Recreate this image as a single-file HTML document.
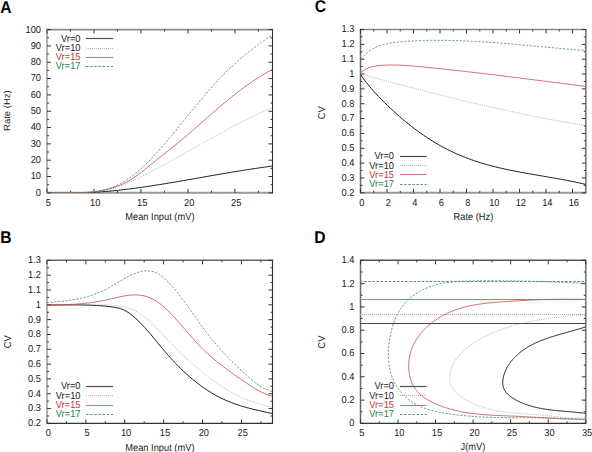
<!DOCTYPE html><html><head><meta charset="utf-8"><style>html,body{margin:0;padding:0;background:#fff;width:592px;height:452px;overflow:hidden}</style></head><body><svg width="592" height="452" viewBox="0 0 592 452" style="display:block;font-family:'Liberation Sans', sans-serif;text-rendering:geometricPrecision">
<rect width="592" height="452" fill="#fff"/>
<clipPath id="cA"><rect x="47.00" y="29.60" width="225.50" height="163.25"/></clipPath>
<path d="M46.50 29.60H273.00" stroke="#8a8a8a" stroke-width="1.6"/>
<path d="M46.50 192.85H273.00" stroke="#9a9a9a" stroke-width="2.0"/>
<path d="M47.00 29.10V193.35" stroke="#b4b4b4" stroke-width="2.0"/>
<path d="M272.50 29.10V193.35" stroke="#333" stroke-width="1.1"/>
<path d="M47.00 192.85v-4M47.00 29.60v4M93.98 192.85v-4M93.98 29.60v4M140.96 192.85v-4M140.96 29.60v4M187.94 192.85v-4M187.94 29.60v4M234.92 192.85v-4M234.92 29.60v4M70.49 192.85v-2M70.49 29.60v2M117.47 192.85v-2M117.47 29.60v2M164.45 192.85v-2M164.45 29.60v2M211.43 192.85v-2M211.43 29.60v2M258.41 192.85v-2M258.41 29.60v2M47.00 192.85h4M272.50 192.85h-4M47.00 176.53h4M272.50 176.53h-4M47.00 160.20h4M272.50 160.20h-4M47.00 143.88h4M272.50 143.88h-4M47.00 127.55h4M272.50 127.55h-4M47.00 111.22h4M272.50 111.22h-4M47.00 94.90h4M272.50 94.90h-4M47.00 78.57h4M272.50 78.57h-4M47.00 62.25h4M272.50 62.25h-4M47.00 45.92h4M272.50 45.92h-4M47.00 29.60h4M272.50 29.60h-4M47.00 184.69h2M272.50 184.69h-2M47.00 168.36h2M272.50 168.36h-2M47.00 152.04h2M272.50 152.04h-2M47.00 135.71h2M272.50 135.71h-2M47.00 119.39h2M272.50 119.39h-2M47.00 103.06h2M272.50 103.06h-2M47.00 86.74h2M272.50 86.74h-2M47.00 70.41h2M272.50 70.41h-2M47.00 54.09h2M272.50 54.09h-2M47.00 37.76h2M272.50 37.76h-2" stroke="#333" stroke-width="1" fill="none"/>
<text transform="translate(48.30 205.75) scale(1 1.08)" text-anchor="middle" fill="#1a1a1a" font-size="9.3">5</text>
<text transform="translate(95.28 205.75) scale(1 1.08)" text-anchor="middle" fill="#1a1a1a" font-size="9.3">10</text>
<text transform="translate(142.26 205.75) scale(1 1.08)" text-anchor="middle" fill="#1a1a1a" font-size="9.3">15</text>
<text transform="translate(189.24 205.75) scale(1 1.08)" text-anchor="middle" fill="#1a1a1a" font-size="9.3">20</text>
<text transform="translate(236.22 205.75) scale(1 1.08)" text-anchor="middle" fill="#1a1a1a" font-size="9.3">25</text>
<text transform="translate(41.00 195.75) scale(1 1.08)" text-anchor="end" fill="#1a1a1a" font-size="9.3">0</text>
<text transform="translate(41.00 179.43) scale(1 1.08)" text-anchor="end" fill="#1a1a1a" font-size="9.3">10</text>
<text transform="translate(41.00 163.10) scale(1 1.08)" text-anchor="end" fill="#1a1a1a" font-size="9.3">20</text>
<text transform="translate(41.00 146.78) scale(1 1.08)" text-anchor="end" fill="#1a1a1a" font-size="9.3">30</text>
<text transform="translate(41.00 130.45) scale(1 1.08)" text-anchor="end" fill="#1a1a1a" font-size="9.3">40</text>
<text transform="translate(41.00 114.12) scale(1 1.08)" text-anchor="end" fill="#1a1a1a" font-size="9.3">50</text>
<text transform="translate(41.00 97.80) scale(1 1.08)" text-anchor="end" fill="#1a1a1a" font-size="9.3">60</text>
<text transform="translate(41.00 81.47) scale(1 1.08)" text-anchor="end" fill="#1a1a1a" font-size="9.3">70</text>
<text transform="translate(41.00 65.15) scale(1 1.08)" text-anchor="end" fill="#1a1a1a" font-size="9.3">80</text>
<text transform="translate(41.00 48.82) scale(1 1.08)" text-anchor="end" fill="#1a1a1a" font-size="9.3">90</text>
<text transform="translate(41.00 32.50) scale(1 1.08)" text-anchor="end" fill="#1a1a1a" font-size="9.3">100</text>
<clipPath id="cB"><rect x="47.00" y="260.35" width="225.50" height="163.05"/></clipPath>
<path d="M46.50 260.35H273.00" stroke="#666" stroke-width="1.5"/>
<path d="M46.50 423.40H273.00" stroke="#333" stroke-width="1.3"/>
<path d="M47.00 259.85V423.90" stroke="#b4b4b4" stroke-width="2.0"/>
<path d="M272.50 259.85V423.90" stroke="#333" stroke-width="1.2"/>
<path d="M47.00 423.40v-4M47.00 260.35v4M85.88 423.40v-4M85.88 260.35v4M124.76 423.40v-4M124.76 260.35v4M163.64 423.40v-4M163.64 260.35v4M202.52 423.40v-4M202.52 260.35v4M241.40 423.40v-4M241.40 260.35v4M66.44 423.40v-2M66.44 260.35v2M105.32 423.40v-2M105.32 260.35v2M144.20 423.40v-2M144.20 260.35v2M183.08 423.40v-2M183.08 260.35v2M221.96 423.40v-2M221.96 260.35v2M260.84 423.40v-2M260.84 260.35v2M47.00 423.40h4M272.50 423.40h-4M47.00 408.58h4M272.50 408.58h-4M47.00 393.75h4M272.50 393.75h-4M47.00 378.93h4M272.50 378.93h-4M47.00 364.11h4M272.50 364.11h-4M47.00 349.29h4M272.50 349.29h-4M47.00 334.46h4M272.50 334.46h-4M47.00 319.64h4M272.50 319.64h-4M47.00 304.82h4M272.50 304.82h-4M47.00 290.00h4M272.50 290.00h-4M47.00 275.17h4M272.50 275.17h-4M47.00 260.35h4M272.50 260.35h-4M47.00 415.99h2M272.50 415.99h-2M47.00 401.17h2M272.50 401.17h-2M47.00 386.34h2M272.50 386.34h-2M47.00 371.52h2M272.50 371.52h-2M47.00 356.70h2M272.50 356.70h-2M47.00 341.88h2M272.50 341.88h-2M47.00 327.05h2M272.50 327.05h-2M47.00 312.23h2M272.50 312.23h-2M47.00 297.41h2M272.50 297.41h-2M47.00 282.58h2M272.50 282.58h-2M47.00 267.76h2M272.50 267.76h-2" stroke="#333" stroke-width="1" fill="none"/>
<text transform="translate(48.30 436.30) scale(1 1.08)" text-anchor="middle" fill="#1a1a1a" font-size="9.3">0</text>
<text transform="translate(87.18 436.30) scale(1 1.08)" text-anchor="middle" fill="#1a1a1a" font-size="9.3">5</text>
<text transform="translate(126.06 436.30) scale(1 1.08)" text-anchor="middle" fill="#1a1a1a" font-size="9.3">10</text>
<text transform="translate(164.94 436.30) scale(1 1.08)" text-anchor="middle" fill="#1a1a1a" font-size="9.3">15</text>
<text transform="translate(203.82 436.30) scale(1 1.08)" text-anchor="middle" fill="#1a1a1a" font-size="9.3">20</text>
<text transform="translate(242.70 436.30) scale(1 1.08)" text-anchor="middle" fill="#1a1a1a" font-size="9.3">25</text>
<text transform="translate(41.00 426.30) scale(1 1.08)" text-anchor="end" fill="#1a1a1a" font-size="9.3">0.2</text>
<text transform="translate(41.00 411.48) scale(1 1.08)" text-anchor="end" fill="#1a1a1a" font-size="9.3">0.3</text>
<text transform="translate(41.00 396.65) scale(1 1.08)" text-anchor="end" fill="#1a1a1a" font-size="9.3">0.4</text>
<text transform="translate(41.00 381.83) scale(1 1.08)" text-anchor="end" fill="#1a1a1a" font-size="9.3">0.5</text>
<text transform="translate(41.00 367.01) scale(1 1.08)" text-anchor="end" fill="#1a1a1a" font-size="9.3">0.6</text>
<text transform="translate(41.00 352.19) scale(1 1.08)" text-anchor="end" fill="#1a1a1a" font-size="9.3">0.7</text>
<text transform="translate(41.00 337.36) scale(1 1.08)" text-anchor="end" fill="#1a1a1a" font-size="9.3">0.8</text>
<text transform="translate(41.00 322.54) scale(1 1.08)" text-anchor="end" fill="#1a1a1a" font-size="9.3">0.9</text>
<text transform="translate(41.00 307.72) scale(1 1.08)" text-anchor="end" fill="#1a1a1a" font-size="9.3">1</text>
<text transform="translate(41.00 292.90) scale(1 1.08)" text-anchor="end" fill="#1a1a1a" font-size="9.3">1.1</text>
<text transform="translate(41.00 278.07) scale(1 1.08)" text-anchor="end" fill="#1a1a1a" font-size="9.3">1.2</text>
<text transform="translate(41.00 263.25) scale(1 1.08)" text-anchor="end" fill="#1a1a1a" font-size="9.3">1.3</text>
<clipPath id="cC"><rect x="360.50" y="29.50" width="225.30" height="163.30"/></clipPath>
<path d="M360.00 29.50H586.30" stroke="#888" stroke-width="1.7"/>
<path d="M360.00 192.80H586.30" stroke="#999" stroke-width="2.0"/>
<path d="M360.50 29.00V193.30" stroke="#6a6a6a" stroke-width="1.5"/>
<path d="M585.80 29.00V193.30" stroke="#777" stroke-width="1.6"/>
<path d="M360.50 192.80v-4M360.50 29.50v4M387.01 192.80v-4M387.01 29.50v4M413.51 192.80v-4M413.51 29.50v4M440.02 192.80v-4M440.02 29.50v4M466.52 192.80v-4M466.52 29.50v4M493.03 192.80v-4M493.03 29.50v4M519.54 192.80v-4M519.54 29.50v4M546.04 192.80v-4M546.04 29.50v4M572.55 192.80v-4M572.55 29.50v4M373.75 192.80v-2M373.75 29.50v2M400.26 192.80v-2M400.26 29.50v2M426.76 192.80v-2M426.76 29.50v2M453.27 192.80v-2M453.27 29.50v2M479.78 192.80v-2M479.78 29.50v2M506.28 192.80v-2M506.28 29.50v2M532.79 192.80v-2M532.79 29.50v2M559.29 192.80v-2M559.29 29.50v2M360.50 192.80h4M585.80 192.80h-4M360.50 177.95h4M585.80 177.95h-4M360.50 163.11h4M585.80 163.11h-4M360.50 148.26h4M585.80 148.26h-4M360.50 133.42h4M585.80 133.42h-4M360.50 118.57h4M585.80 118.57h-4M360.50 103.73h4M585.80 103.73h-4M360.50 88.88h4M585.80 88.88h-4M360.50 74.04h4M585.80 74.04h-4M360.50 59.19h4M585.80 59.19h-4M360.50 44.35h4M585.80 44.35h-4M360.50 29.50h4M585.80 29.50h-4M360.50 185.38h2M585.80 185.38h-2M360.50 170.53h2M585.80 170.53h-2M360.50 155.69h2M585.80 155.69h-2M360.50 140.84h2M585.80 140.84h-2M360.50 126.00h2M585.80 126.00h-2M360.50 111.15h2M585.80 111.15h-2M360.50 96.30h2M585.80 96.30h-2M360.50 81.46h2M585.80 81.46h-2M360.50 66.61h2M585.80 66.61h-2M360.50 51.77h2M585.80 51.77h-2M360.50 36.92h2M585.80 36.92h-2" stroke="#333" stroke-width="1" fill="none"/>
<text transform="translate(361.80 205.70) scale(1 1.08)" text-anchor="middle" fill="#1a1a1a" font-size="9.3">0</text>
<text transform="translate(388.31 205.70) scale(1 1.08)" text-anchor="middle" fill="#1a1a1a" font-size="9.3">2</text>
<text transform="translate(414.81 205.70) scale(1 1.08)" text-anchor="middle" fill="#1a1a1a" font-size="9.3">4</text>
<text transform="translate(441.32 205.70) scale(1 1.08)" text-anchor="middle" fill="#1a1a1a" font-size="9.3">6</text>
<text transform="translate(467.82 205.70) scale(1 1.08)" text-anchor="middle" fill="#1a1a1a" font-size="9.3">8</text>
<text transform="translate(494.33 205.70) scale(1 1.08)" text-anchor="middle" fill="#1a1a1a" font-size="9.3">10</text>
<text transform="translate(520.84 205.70) scale(1 1.08)" text-anchor="middle" fill="#1a1a1a" font-size="9.3">12</text>
<text transform="translate(547.34 205.70) scale(1 1.08)" text-anchor="middle" fill="#1a1a1a" font-size="9.3">14</text>
<text transform="translate(573.85 205.70) scale(1 1.08)" text-anchor="middle" fill="#1a1a1a" font-size="9.3">16</text>
<text transform="translate(354.50 195.70) scale(1 1.08)" text-anchor="end" fill="#1a1a1a" font-size="9.3">0.2</text>
<text transform="translate(354.50 180.85) scale(1 1.08)" text-anchor="end" fill="#1a1a1a" font-size="9.3">0.3</text>
<text transform="translate(354.50 166.01) scale(1 1.08)" text-anchor="end" fill="#1a1a1a" font-size="9.3">0.4</text>
<text transform="translate(354.50 151.16) scale(1 1.08)" text-anchor="end" fill="#1a1a1a" font-size="9.3">0.5</text>
<text transform="translate(354.50 136.32) scale(1 1.08)" text-anchor="end" fill="#1a1a1a" font-size="9.3">0.6</text>
<text transform="translate(354.50 121.47) scale(1 1.08)" text-anchor="end" fill="#1a1a1a" font-size="9.3">0.7</text>
<text transform="translate(354.50 106.63) scale(1 1.08)" text-anchor="end" fill="#1a1a1a" font-size="9.3">0.8</text>
<text transform="translate(354.50 91.78) scale(1 1.08)" text-anchor="end" fill="#1a1a1a" font-size="9.3">0.9</text>
<text transform="translate(354.50 76.94) scale(1 1.08)" text-anchor="end" fill="#1a1a1a" font-size="9.3">1</text>
<text transform="translate(354.50 62.09) scale(1 1.08)" text-anchor="end" fill="#1a1a1a" font-size="9.3">1.1</text>
<text transform="translate(354.50 47.25) scale(1 1.08)" text-anchor="end" fill="#1a1a1a" font-size="9.3">1.2</text>
<text transform="translate(354.50 32.40) scale(1 1.08)" text-anchor="end" fill="#1a1a1a" font-size="9.3">1.3</text>
<clipPath id="cD"><rect x="360.50" y="260.35" width="225.25" height="163.05"/></clipPath>
<path d="M360.00 260.35H586.25" stroke="#555" stroke-width="1.5"/>
<path d="M360.00 423.40H586.25" stroke="#333" stroke-width="1.3"/>
<path d="M360.50 259.85V423.90" stroke="#6a6a6a" stroke-width="1.5"/>
<path d="M585.75 259.85V423.90" stroke="#777" stroke-width="1.6"/>
<path d="M360.50 423.40v-4M360.50 260.35v4M398.04 423.40v-4M398.04 260.35v4M435.58 423.40v-4M435.58 260.35v4M473.12 423.40v-4M473.12 260.35v4M510.67 423.40v-4M510.67 260.35v4M548.21 423.40v-4M548.21 260.35v4M585.75 423.40v-4M585.75 260.35v4M379.27 423.40v-2M379.27 260.35v2M416.81 423.40v-2M416.81 260.35v2M454.35 423.40v-2M454.35 260.35v2M491.90 423.40v-2M491.90 260.35v2M529.44 423.40v-2M529.44 260.35v2M566.98 423.40v-2M566.98 260.35v2M360.50 423.40h4M585.75 423.40h-4M360.50 400.11h4M585.75 400.11h-4M360.50 376.81h4M585.75 376.81h-4M360.50 353.52h4M585.75 353.52h-4M360.50 330.23h4M585.75 330.23h-4M360.50 306.94h4M585.75 306.94h-4M360.50 283.64h4M585.75 283.64h-4M360.50 260.35h4M585.75 260.35h-4M360.50 411.75h2M585.75 411.75h-2M360.50 388.46h2M585.75 388.46h-2M360.50 365.17h2M585.75 365.17h-2M360.50 341.88h2M585.75 341.88h-2M360.50 318.58h2M585.75 318.58h-2M360.50 295.29h2M585.75 295.29h-2M360.50 272.00h2M585.75 272.00h-2" stroke="#333" stroke-width="1" fill="none"/>
<text transform="translate(361.80 436.30) scale(1 1.08)" text-anchor="middle" fill="#1a1a1a" font-size="9.3">5</text>
<text transform="translate(399.34 436.30) scale(1 1.08)" text-anchor="middle" fill="#1a1a1a" font-size="9.3">10</text>
<text transform="translate(436.88 436.30) scale(1 1.08)" text-anchor="middle" fill="#1a1a1a" font-size="9.3">15</text>
<text transform="translate(474.43 436.30) scale(1 1.08)" text-anchor="middle" fill="#1a1a1a" font-size="9.3">20</text>
<text transform="translate(511.97 436.30) scale(1 1.08)" text-anchor="middle" fill="#1a1a1a" font-size="9.3">25</text>
<text transform="translate(549.51 436.30) scale(1 1.08)" text-anchor="middle" fill="#1a1a1a" font-size="9.3">30</text>
<text transform="translate(587.05 436.30) scale(1 1.08)" text-anchor="middle" fill="#1a1a1a" font-size="9.3">35</text>
<text transform="translate(354.50 426.30) scale(1 1.08)" text-anchor="end" fill="#1a1a1a" font-size="9.3">0</text>
<text transform="translate(354.50 403.01) scale(1 1.08)" text-anchor="end" fill="#1a1a1a" font-size="9.3">0.2</text>
<text transform="translate(354.50 379.71) scale(1 1.08)" text-anchor="end" fill="#1a1a1a" font-size="9.3">0.4</text>
<text transform="translate(354.50 356.42) scale(1 1.08)" text-anchor="end" fill="#1a1a1a" font-size="9.3">0.6</text>
<text transform="translate(354.50 333.13) scale(1 1.08)" text-anchor="end" fill="#1a1a1a" font-size="9.3">0.8</text>
<text transform="translate(354.50 309.84) scale(1 1.08)" text-anchor="end" fill="#1a1a1a" font-size="9.3">1</text>
<text transform="translate(354.50 286.54) scale(1 1.08)" text-anchor="end" fill="#1a1a1a" font-size="9.3">1.2</text>
<text transform="translate(354.50 263.25) scale(1 1.08)" text-anchor="end" fill="#1a1a1a" font-size="9.3">1.4</text>
<text transform="translate(159.90 219.80) scale(1 1.08)" text-anchor="middle" fill="#1a1a1a" font-size="9.3">Mean Input (mV)</text>
<text transform="translate(159.90 450.80) scale(1 1.08)" text-anchor="middle" fill="#1a1a1a" font-size="9.3">Mean Input (mV)</text>
<text transform="translate(473.40 219.80) scale(1 1.08)" text-anchor="middle" fill="#1a1a1a" font-size="9.3">Rate (Hz)</text>
<text transform="translate(472.90 449.80) scale(1 1.08)" text-anchor="middle" fill="#1a1a1a" font-size="9.3">J(mV)</text>
<text transform="translate(10.30 110.60) rotate(-90) scale(1 0.95)" text-anchor="middle" fill="#1a1a1a" font-size="9.5">Rate (Hz)</text>
<text transform="translate(11.20 341.70) rotate(-90) scale(1 1.08)" text-anchor="middle" fill="#1a1a1a" font-size="9.3">CV</text>
<text transform="translate(324.60 112.70) rotate(-90) scale(1 1.08)" text-anchor="middle" fill="#1a1a1a" font-size="9.3">CV</text>
<text transform="translate(324.60 342.00) rotate(-90) scale(1 1.08)" text-anchor="middle" fill="#1a1a1a" font-size="9.3">CV</text>
<text transform="translate(0.30 12.50) scale(0.92 1)" font-size="17" font-weight="bold" fill="#000">A</text>
<text transform="translate(0.20 242.70) scale(0.92 1)" font-size="17" font-weight="bold" fill="#000">B</text>
<text transform="translate(314.80 11.50) scale(0.92 1)" font-size="17" font-weight="bold" fill="#000">C</text>
<text transform="translate(314.20 242.70) scale(0.92 1)" font-size="17" font-weight="bold" fill="#000">D</text>
<text transform="translate(80.50 41.70) scale(1 1.08)" text-anchor="end" fill="#1a1a1a" font-size="9.3">Vr=0</text>
<path d="M86.00 38.50H113.20" stroke="#505050" stroke-width="1.2"/>
<text transform="translate(80.50 50.90) scale(1 1.08)" text-anchor="end" fill="#1a1a1a" font-size="9.3">Vr=10</text>
<path d="M86.00 48.50H113.20" stroke="#b8b8b8" stroke-width="1.0" stroke-dasharray="1 1"/>
<text transform="translate(80.50 60.40) scale(1 1.08)" text-anchor="end" fill="#c03838" font-size="9.3">Vr=15</text>
<path d="M86.00 57.50H113.20" stroke="#d47474" stroke-width="1.0"/>
<text transform="translate(80.50 69.40) scale(1 1.08)" text-anchor="end" fill="#2a8048" font-size="9.3">Vr=17</text>
<path d="M86.00 66.50H113.20" stroke="#5e9a74" stroke-width="1.0" stroke-dasharray="2.6 1.5"/>
<text transform="translate(80.50 389.40) scale(1 1.08)" text-anchor="end" fill="#1a1a1a" font-size="9.3">Vr=0</text>
<path d="M86.00 386.50H113.20" stroke="#505050" stroke-width="1.2"/>
<text transform="translate(80.50 398.60) scale(1 1.08)" text-anchor="end" fill="#1a1a1a" font-size="9.3">Vr=10</text>
<path d="M86.00 395.50H113.20" stroke="#b8b8b8" stroke-width="1.0" stroke-dasharray="1 1"/>
<text transform="translate(80.50 408.00) scale(1 1.08)" text-anchor="end" fill="#c03838" font-size="9.3">Vr=15</text>
<path d="M86.00 405.50H113.20" stroke="#d47474" stroke-width="1.0"/>
<text transform="translate(80.50 417.30) scale(1 1.08)" text-anchor="end" fill="#2a8048" font-size="9.3">Vr=17</text>
<path d="M86.00 414.50H113.20" stroke="#5e9a74" stroke-width="1.0" stroke-dasharray="2.6 1.5"/>
<text transform="translate(394.00 159.30) scale(1 1.08)" text-anchor="end" fill="#1a1a1a" font-size="9.3">Vr=0</text>
<path d="M400.00 156.50H426.70" stroke="#505050" stroke-width="1.2"/>
<text transform="translate(394.00 168.60) scale(1 1.08)" text-anchor="end" fill="#1a1a1a" font-size="9.3">Vr=10</text>
<path d="M400.00 165.50H426.70" stroke="#b8b8b8" stroke-width="1.0" stroke-dasharray="1 1"/>
<text transform="translate(394.00 177.80) scale(1 1.08)" text-anchor="end" fill="#c03838" font-size="9.3">Vr=15</text>
<path d="M400.00 174.50H426.70" stroke="#d47474" stroke-width="1.0"/>
<text transform="translate(394.00 187.20) scale(1 1.08)" text-anchor="end" fill="#2a8048" font-size="9.3">Vr=17</text>
<path d="M400.00 184.50H426.70" stroke="#5e9a74" stroke-width="1.0" stroke-dasharray="2.6 1.5"/>
<text transform="translate(394.00 389.40) scale(1 1.08)" text-anchor="end" fill="#1a1a1a" font-size="9.3">Vr=0</text>
<path d="M400.00 386.50H426.70" stroke="#505050" stroke-width="1.2"/>
<text transform="translate(394.00 398.60) scale(1 1.08)" text-anchor="end" fill="#1a1a1a" font-size="9.3">Vr=10</text>
<path d="M400.00 395.50H426.70" stroke="#b8b8b8" stroke-width="1.0" stroke-dasharray="1 1"/>
<text transform="translate(394.00 408.00) scale(1 1.08)" text-anchor="end" fill="#c03838" font-size="9.3">Vr=15</text>
<path d="M400.00 405.50H426.70" stroke="#d47474" stroke-width="1.0"/>
<text transform="translate(394.00 417.30) scale(1 1.08)" text-anchor="end" fill="#2a8048" font-size="9.3">Vr=17</text>
<path d="M400.00 414.50H426.70" stroke="#5e9a74" stroke-width="1.0" stroke-dasharray="2.6 1.5"/>
<path d="M47.00 192.77 L48.50 192.85 L50.00 192.92 L51.50 192.99 L53.00 193.05 L54.50 193.10 L56.00 193.15 L57.50 193.19 L59.00 193.23 L60.50 193.25 L62.00 193.28 L63.50 193.29 L65.00 193.30 L66.50 193.31 L68.00 193.30 L69.50 193.30 L71.00 193.28 L72.50 193.26 L74.00 193.24 L75.50 193.21 L77.00 193.17 L78.50 193.13 L80.00 193.08 L81.50 193.03 L83.00 192.97 L84.50 192.91 L86.00 192.84 L87.50 192.77 L89.00 192.69 L90.50 192.61 L92.00 192.52 L93.50 192.43 L95.00 192.33 L96.50 192.23 L98.00 192.12 L99.50 192.01 L101.00 191.90 L102.50 191.78 L104.00 191.65 L105.50 191.52 L107.00 191.39 L108.50 191.25 L110.00 191.11 L111.50 190.97 L113.00 190.82 L114.50 190.67 L116.00 190.51 L117.50 190.35 L119.00 190.18 L120.50 190.02 L122.00 189.85 L123.50 189.67 L125.00 189.49 L126.50 189.31 L128.00 189.13 L129.50 188.94 L131.00 188.75 L132.50 188.55 L134.00 188.35 L135.50 188.15 L137.00 187.95 L138.50 187.74 L140.00 187.54 L141.50 187.32 L143.00 187.11 L144.50 186.89 L146.00 186.67 L147.50 186.45 L149.00 186.23 L150.50 186.00 L152.00 185.77 L153.50 185.54 L155.00 185.31 L156.50 185.08 L158.00 184.84 L159.50 184.60 L161.00 184.36 L162.50 184.12 L164.00 183.88 L165.50 183.63 L167.00 183.38 L168.50 183.13 L170.00 182.88 L171.50 182.63 L173.00 182.38 L174.50 182.13 L176.00 181.87 L177.50 181.62 L179.00 181.36 L180.50 181.10 L182.00 180.84 L183.50 180.58 L185.00 180.32 L186.50 180.06 L188.00 179.80 L189.50 179.54 L191.00 179.27 L192.50 179.01 L194.00 178.75 L195.50 178.48 L197.00 178.22 L198.50 177.95 L200.00 177.69 L201.50 177.42 L203.00 177.16 L204.50 176.89 L206.00 176.63 L207.50 176.37 L209.00 176.10 L210.50 175.84 L212.00 175.58 L213.50 175.31 L215.00 175.05 L216.50 174.79 L218.00 174.53 L219.50 174.27 L221.00 174.01 L222.50 173.75 L224.00 173.50 L225.50 173.24 L227.00 172.99 L228.50 172.73 L230.00 172.48 L231.50 172.23 L233.00 171.98 L234.50 171.73 L236.00 171.48 L237.50 171.24 L239.00 170.99 L240.50 170.75 L242.00 170.51 L243.50 170.27 L245.00 170.04 L246.50 169.80 L248.00 169.57 L249.50 169.34 L251.00 169.11 L252.50 168.88 L254.00 168.66 L255.50 168.44 L257.00 168.22 L258.50 168.00 L260.00 167.79 L261.50 167.58 L263.00 167.37 L264.50 167.16 L266.00 166.96 L267.50 166.76 L269.00 166.56 L270.50 166.37 L272.00 166.17 L272.50 166.11" fill="none" stroke="#1a1a1a" stroke-width="1.0" clip-path="url(#cA)" stroke-linejoin="round"/>
<path d="M47.00 192.78 L48.50 192.75 L50.00 192.73 L51.50 192.72 L53.00 192.72 L54.50 192.72 L56.00 192.73 L57.50 192.75 L59.00 192.77 L60.50 192.79 L62.00 192.81 L63.50 192.84 L65.00 192.86 L66.50 192.89 L68.00 192.91 L69.50 192.93 L71.00 192.94 L72.50 192.96 L74.00 192.96 L75.50 192.96 L77.00 192.95 L78.50 192.93 L80.00 192.91 L81.50 192.87 L83.00 192.82 L84.50 192.76 L86.00 192.68 L87.50 192.60 L89.00 192.49 L90.50 192.38 L92.00 192.24 L93.50 192.09 L95.00 191.92 L96.50 191.74 L98.00 191.54 L99.50 191.31 L101.00 191.07 L102.50 190.81 L104.00 190.53 L105.50 190.23 L107.00 189.91 L108.50 189.56 L110.00 189.19 L111.50 188.80 L113.00 188.39 L114.50 187.95 L116.00 187.49 L117.50 187.01 L119.00 186.50 L120.50 185.98 L122.00 185.43 L123.50 184.86 L125.00 184.28 L126.50 183.67 L128.00 183.04 L129.50 182.39 L131.00 181.73 L132.50 181.05 L134.00 180.35 L135.50 179.64 L137.00 178.91 L138.50 178.17 L140.00 177.42 L141.50 176.66 L143.00 175.89 L144.50 175.11 L146.00 174.32 L147.50 173.52 L149.00 172.72 L150.50 171.92 L152.00 171.11 L153.50 170.31 L155.00 169.50 L156.50 168.69 L158.00 167.87 L159.50 167.06 L161.00 166.24 L162.50 165.42 L164.00 164.61 L165.50 163.79 L167.00 162.96 L168.50 162.14 L170.00 161.32 L171.50 160.49 L173.00 159.67 L174.50 158.84 L176.00 158.01 L177.50 157.19 L179.00 156.36 L180.50 155.53 L182.00 154.69 L183.50 153.86 L185.00 153.03 L186.50 152.20 L188.00 151.36 L189.50 150.53 L191.00 149.70 L192.50 148.86 L194.00 148.03 L195.50 147.19 L197.00 146.36 L198.50 145.52 L200.00 144.68 L201.50 143.85 L203.00 143.01 L204.50 142.18 L206.00 141.34 L207.50 140.50 L209.00 139.67 L210.50 138.83 L212.00 138.00 L213.50 137.16 L215.00 136.33 L216.50 135.50 L218.00 134.66 L219.50 133.83 L221.00 133.01 L222.50 132.18 L224.00 131.36 L225.50 130.53 L227.00 129.72 L228.50 128.90 L230.00 128.09 L231.50 127.28 L233.00 126.48 L234.50 125.68 L236.00 124.88 L237.50 124.09 L239.00 123.30 L240.50 122.52 L242.00 121.75 L243.50 120.98 L245.00 120.22 L246.50 119.46 L248.00 118.72 L249.50 117.97 L251.00 117.24 L252.50 116.51 L254.00 115.79 L255.50 115.08 L257.00 114.38 L258.50 113.69 L260.00 113.00 L261.50 112.33 L263.00 111.66 L264.50 111.00 L266.00 110.36 L267.50 109.72 L269.00 109.10 L270.50 108.48 L272.00 107.88 L272.50 107.68" fill="none" stroke="#999" stroke-width="0.75" stroke-dasharray="1 1.2" clip-path="url(#cA)" stroke-linejoin="round"/>
<path d="M47.00 192.86 L48.50 192.83 L50.00 192.81 L51.50 192.80 L53.00 192.79 L54.50 192.79 L56.00 192.79 L57.50 192.80 L59.00 192.80 L60.50 192.81 L62.00 192.82 L63.50 192.83 L65.00 192.84 L66.50 192.84 L68.00 192.85 L69.50 192.85 L71.00 192.84 L72.50 192.83 L74.00 192.82 L75.50 192.80 L77.00 192.77 L78.50 192.73 L80.00 192.68 L81.50 192.62 L83.00 192.56 L84.50 192.48 L86.00 192.39 L87.50 192.28 L89.00 192.16 L90.50 192.03 L92.00 191.88 L93.50 191.72 L95.00 191.53 L96.50 191.33 L98.00 191.11 L99.50 190.87 L101.00 190.61 L102.50 190.33 L104.00 190.03 L105.50 189.70 L107.00 189.35 L108.50 188.98 L110.00 188.58 L111.50 188.15 L113.00 187.70 L114.50 187.21 L116.00 186.70 L117.50 186.15 L119.00 185.57 L120.50 184.95 L122.00 184.30 L123.50 183.60 L125.00 182.87 L126.50 182.09 L128.00 181.27 L129.50 180.40 L131.00 179.49 L132.50 178.54 L134.00 177.55 L135.50 176.52 L137.00 175.45 L138.50 174.35 L140.00 173.23 L141.50 172.07 L143.00 170.90 L144.50 169.71 L146.00 168.51 L147.50 167.30 L149.00 166.09 L150.50 164.87 L152.00 163.66 L153.50 162.45 L155.00 161.25 L156.50 160.05 L158.00 158.86 L159.50 157.68 L161.00 156.49 L162.50 155.31 L164.00 154.12 L165.50 152.94 L167.00 151.75 L168.50 150.56 L170.00 149.37 L171.50 148.17 L173.00 146.96 L174.50 145.75 L176.00 144.53 L177.50 143.30 L179.00 142.07 L180.50 140.82 L182.00 139.57 L183.50 138.31 L185.00 137.04 L186.50 135.77 L188.00 134.49 L189.50 133.20 L191.00 131.91 L192.50 130.61 L194.00 129.30 L195.50 127.99 L197.00 126.68 L198.50 125.36 L200.00 124.04 L201.50 122.72 L203.00 121.40 L204.50 120.08 L206.00 118.76 L207.50 117.44 L209.00 116.12 L210.50 114.80 L212.00 113.49 L213.50 112.19 L215.00 110.89 L216.50 109.59 L218.00 108.30 L219.50 107.02 L221.00 105.74 L222.50 104.48 L224.00 103.22 L225.50 101.97 L227.00 100.74 L228.50 99.51 L230.00 98.29 L231.50 97.08 L233.00 95.88 L234.50 94.70 L236.00 93.53 L237.50 92.36 L239.00 91.21 L240.50 90.08 L242.00 88.95 L243.50 87.84 L245.00 86.75 L246.50 85.66 L248.00 84.60 L249.50 83.54 L251.00 82.50 L252.50 81.48 L254.00 80.47 L255.50 79.48 L257.00 78.51 L258.50 77.55 L260.00 76.61 L261.50 75.69 L263.00 74.79 L264.50 73.90 L266.00 73.03 L267.50 72.18 L269.00 71.35 L270.50 70.54 L272.00 69.75 L272.50 69.50" fill="none" stroke="#cc5252" stroke-width="0.85" clip-path="url(#cA)" stroke-linejoin="round"/>
<path d="M47.00 192.80 L48.50 192.70 L50.00 192.63 L51.50 192.57 L53.00 192.52 L54.50 192.49 L56.00 192.47 L57.50 192.46 L59.00 192.46 L60.50 192.47 L62.00 192.49 L63.50 192.51 L65.00 192.53 L66.50 192.56 L68.00 192.59 L69.50 192.61 L71.00 192.64 L72.50 192.66 L74.00 192.68 L75.50 192.69 L77.00 192.70 L78.50 192.69 L80.00 192.68 L81.50 192.65 L83.00 192.62 L84.50 192.56 L86.00 192.50 L87.50 192.41 L89.00 192.31 L90.50 192.19 L92.00 192.04 L93.50 191.88 L95.00 191.69 L96.50 191.47 L98.00 191.23 L99.50 190.96 L101.00 190.66 L102.50 190.34 L104.00 189.97 L105.50 189.58 L107.00 189.15 L108.50 188.68 L110.00 188.18 L111.50 187.64 L113.00 187.05 L114.50 186.43 L116.00 185.77 L117.50 185.07 L119.00 184.32 L120.50 183.54 L122.00 182.71 L123.50 181.84 L125.00 180.93 L126.50 179.97 L128.00 178.97 L129.50 177.93 L131.00 176.85 L132.50 175.72 L134.00 174.56 L135.50 173.36 L137.00 172.12 L138.50 170.84 L140.00 169.53 L141.50 168.18 L143.00 166.80 L144.50 165.39 L146.00 163.95 L147.50 162.47 L149.00 160.97 L150.50 159.44 L152.00 157.89 L153.50 156.31 L155.00 154.70 L156.50 153.07 L158.00 151.42 L159.50 149.75 L161.00 148.06 L162.50 146.35 L164.00 144.62 L165.50 142.87 L167.00 141.11 L168.50 139.34 L170.00 137.55 L171.50 135.75 L173.00 133.94 L174.50 132.12 L176.00 130.29 L177.50 128.46 L179.00 126.61 L180.50 124.77 L182.00 122.91 L183.50 121.06 L185.00 119.20 L186.50 117.35 L188.00 115.49 L189.50 113.63 L191.00 111.78 L192.50 109.93 L194.00 108.09 L195.50 106.25 L197.00 104.42 L198.50 102.60 L200.00 100.78 L201.50 98.98 L203.00 97.19 L204.50 95.41 L206.00 93.65 L207.50 91.90 L209.00 90.17 L210.50 88.45 L212.00 86.76 L213.50 85.08 L215.00 83.42 L216.50 81.79 L218.00 80.18 L219.50 78.59 L221.00 77.03 L222.50 75.49 L224.00 73.98 L225.50 72.49 L227.00 71.03 L228.50 69.59 L230.00 68.17 L231.50 66.77 L233.00 65.39 L234.50 64.03 L236.00 62.70 L237.50 61.38 L239.00 60.08 L240.50 58.80 L242.00 57.54 L243.50 56.29 L245.00 55.06 L246.50 53.84 L248.00 52.64 L249.50 51.46 L251.00 50.29 L252.50 49.13 L254.00 47.98 L255.50 46.85 L257.00 45.72 L258.50 44.61 L260.00 43.51 L261.50 42.42 L263.00 41.33 L264.50 40.26 L266.00 39.19 L267.50 38.13 L269.00 37.08 L270.50 36.03 L272.00 34.99 L272.50 34.64" fill="none" stroke="#4f8a63" stroke-width="0.85" stroke-dasharray="2.2 1.5" clip-path="url(#cA)" stroke-linejoin="round"/>
<path d="M47.00 305.00 L48.50 305.00 L50.00 304.99 L51.50 304.98 L53.00 304.97 L54.50 304.96 L56.00 304.94 L57.50 304.93 L59.00 304.92 L60.50 304.91 L62.00 304.90 L63.50 304.89 L65.00 304.88 L66.50 304.87 L68.00 304.86 L69.50 304.86 L71.00 304.86 L72.50 304.86 L74.00 304.87 L75.50 304.87 L77.00 304.89 L78.50 304.90 L80.00 304.92 L81.50 304.94 L83.00 304.97 L84.50 305.01 L86.00 305.04 L87.50 305.09 L89.00 305.14 L90.50 305.19 L92.00 305.26 L93.50 305.33 L95.00 305.40 L96.50 305.49 L98.00 305.58 L99.50 305.68 L101.00 305.78 L102.50 305.90 L104.00 306.02 L105.50 306.16 L107.00 306.31 L108.50 306.47 L110.00 306.64 L111.50 306.83 L113.00 307.04 L114.50 307.26 L116.00 307.51 L117.50 307.80 L119.00 308.16 L120.50 308.60 L122.00 309.16 L123.50 309.81 L125.00 310.56 L126.50 311.41 L128.00 312.35 L129.50 313.37 L131.00 314.47 L132.50 315.65 L134.00 316.90 L135.50 318.22 L137.00 319.60 L138.50 321.04 L140.00 322.53 L141.50 324.08 L143.00 325.67 L144.50 327.31 L146.00 328.98 L147.50 330.68 L149.00 332.42 L150.50 334.18 L152.00 335.96 L153.50 337.75 L155.00 339.56 L156.50 341.37 L158.00 343.19 L159.50 345.00 L161.00 346.81 L162.50 348.61 L164.00 350.40 L165.50 352.17 L167.00 353.91 L168.50 355.63 L170.00 357.32 L171.50 358.98 L173.00 360.61 L174.50 362.21 L176.00 363.79 L177.50 365.33 L179.00 366.85 L180.50 368.34 L182.00 369.80 L183.50 371.24 L185.00 372.64 L186.50 374.02 L188.00 375.37 L189.50 376.69 L191.00 377.98 L192.50 379.25 L194.00 380.49 L195.50 381.69 L197.00 382.88 L198.50 384.03 L200.00 385.16 L201.50 386.25 L203.00 387.32 L204.50 388.37 L206.00 389.38 L207.50 390.37 L209.00 391.33 L210.50 392.26 L212.00 393.17 L213.50 394.05 L215.00 394.90 L216.50 395.72 L218.00 396.52 L219.50 397.29 L221.00 398.03 L222.50 398.75 L224.00 399.45 L225.50 400.12 L227.00 400.77 L228.50 401.40 L230.00 402.01 L231.50 402.60 L233.00 403.16 L234.50 403.71 L236.00 404.24 L237.50 404.76 L239.00 405.25 L240.50 405.73 L242.00 406.20 L243.50 406.65 L245.00 407.09 L246.50 407.51 L248.00 407.93 L249.50 408.33 L251.00 408.72 L252.50 409.10 L254.00 409.47 L255.50 409.84 L257.00 410.19 L258.50 410.54 L260.00 410.88 L261.50 411.22 L263.00 411.55 L264.50 411.88 L266.00 412.21 L267.50 412.53 L269.00 412.85 L270.50 413.17 L272.00 413.49 L272.50 413.60" fill="none" stroke="#1a1a1a" stroke-width="1.0" clip-path="url(#cB)" stroke-linejoin="round"/>
<path d="M47.00 304.79 L48.50 304.84 L50.00 304.89 L51.50 304.94 L53.00 304.97 L54.50 305.00 L56.00 305.03 L57.50 305.05 L59.00 305.06 L60.50 305.07 L62.00 305.08 L63.50 305.08 L65.00 305.07 L66.50 305.07 L68.00 305.06 L69.50 305.05 L71.00 305.03 L72.50 305.02 L74.00 305.00 L75.50 304.98 L77.00 304.96 L78.50 304.94 L80.00 304.92 L81.50 304.90 L83.00 304.88 L84.50 304.86 L86.00 304.84 L87.50 304.83 L89.00 304.82 L90.50 304.81 L92.00 304.80 L93.50 304.79 L95.00 304.79 L96.50 304.79 L98.00 304.80 L99.50 304.81 L101.00 304.83 L102.50 304.85 L104.00 304.88 L105.50 304.91 L107.00 304.95 L108.50 305.00 L110.00 305.07 L111.50 305.15 L113.00 305.25 L114.50 305.37 L116.00 305.51 L117.50 305.69 L119.00 305.89 L120.50 306.13 L122.00 306.40 L123.50 306.72 L125.00 307.07 L126.50 307.47 L128.00 307.92 L129.50 308.42 L131.00 308.98 L132.50 309.59 L134.00 310.26 L135.50 310.99 L137.00 311.79 L138.50 312.66 L140.00 313.60 L141.50 314.61 L143.00 315.70 L144.50 316.85 L146.00 318.07 L147.50 319.34 L149.00 320.67 L150.50 322.04 L152.00 323.46 L153.50 324.92 L155.00 326.41 L156.50 327.94 L158.00 329.48 L159.50 331.05 L161.00 332.63 L162.50 334.23 L164.00 335.83 L165.50 337.43 L167.00 339.03 L168.50 340.61 L170.00 342.19 L171.50 343.76 L173.00 345.31 L174.50 346.85 L176.00 348.38 L177.50 349.89 L179.00 351.38 L180.50 352.85 L182.00 354.31 L183.50 355.74 L185.00 357.16 L186.50 358.55 L188.00 359.93 L189.50 361.29 L191.00 362.63 L192.50 363.95 L194.00 365.26 L195.50 366.55 L197.00 367.82 L198.50 369.07 L200.00 370.31 L201.50 371.53 L203.00 372.74 L204.50 373.93 L206.00 375.11 L207.50 376.27 L209.00 377.42 L210.50 378.55 L212.00 379.66 L213.50 380.76 L215.00 381.84 L216.50 382.90 L218.00 383.94 L219.50 384.96 L221.00 385.96 L222.50 386.94 L224.00 387.89 L225.50 388.83 L227.00 389.74 L228.50 390.62 L230.00 391.48 L231.50 392.32 L233.00 393.13 L234.50 393.92 L236.00 394.69 L237.50 395.44 L239.00 396.16 L240.50 396.86 L242.00 397.54 L243.50 398.20 L245.00 398.84 L246.50 399.46 L248.00 400.06 L249.50 400.63 L251.00 401.19 L252.50 401.73 L254.00 402.25 L255.50 402.75 L257.00 403.23 L258.50 403.70 L260.00 404.15 L261.50 404.58 L263.00 404.99 L264.50 405.39 L266.00 405.77 L267.50 406.13 L269.00 406.48 L270.50 406.81 L272.00 407.13 L272.50 407.23" fill="none" stroke="#999" stroke-width="0.75" stroke-dasharray="1 1.2" clip-path="url(#cB)" stroke-linejoin="round"/>
<path d="M47.00 304.98 L48.50 304.98 L50.00 304.98 L51.50 304.97 L53.00 304.96 L54.50 304.94 L56.00 304.92 L57.50 304.90 L59.00 304.87 L60.50 304.84 L62.00 304.80 L63.50 304.75 L65.00 304.70 L66.50 304.64 L68.00 304.58 L69.50 304.51 L71.00 304.43 L72.50 304.35 L74.00 304.26 L75.50 304.16 L77.00 304.05 L78.50 303.94 L80.00 303.81 L81.50 303.68 L83.00 303.54 L84.50 303.39 L86.00 303.23 L87.50 303.06 L89.00 302.88 L90.50 302.69 L92.00 302.49 L93.50 302.28 L95.00 302.06 L96.50 301.83 L98.00 301.58 L99.50 301.33 L101.00 301.06 L102.50 300.78 L104.00 300.49 L105.50 300.19 L107.00 299.87 L108.50 299.54 L110.00 299.20 L111.50 298.85 L113.00 298.49 L114.50 298.13 L116.00 297.78 L117.50 297.43 L119.00 297.09 L120.50 296.76 L122.00 296.45 L123.50 296.16 L125.00 295.89 L126.50 295.64 L128.00 295.43 L129.50 295.25 L131.00 295.10 L132.50 295.00 L134.00 294.93 L135.50 294.92 L137.00 294.95 L138.50 295.04 L140.00 295.18 L141.50 295.39 L143.00 295.66 L144.50 295.99 L146.00 296.40 L147.50 296.88 L149.00 297.44 L150.50 298.07 L152.00 298.78 L153.50 299.56 L155.00 300.41 L156.50 301.33 L158.00 302.32 L159.50 303.38 L161.00 304.51 L162.50 305.71 L164.00 306.97 L165.50 308.29 L167.00 309.67 L168.50 311.12 L170.00 312.63 L171.50 314.18 L173.00 315.79 L174.50 317.44 L176.00 319.11 L177.50 320.81 L179.00 322.53 L180.50 324.26 L182.00 326.00 L183.50 327.75 L185.00 329.49 L186.50 331.24 L188.00 332.98 L189.50 334.71 L191.00 336.42 L192.50 338.12 L194.00 339.81 L195.50 341.46 L197.00 343.10 L198.50 344.70 L200.00 346.26 L201.50 347.79 L203.00 349.29 L204.50 350.75 L206.00 352.17 L207.50 353.57 L209.00 354.93 L210.50 356.27 L212.00 357.57 L213.50 358.85 L215.00 360.11 L216.50 361.34 L218.00 362.55 L219.50 363.74 L221.00 364.90 L222.50 366.05 L224.00 367.19 L225.50 368.31 L227.00 369.41 L228.50 370.50 L230.00 371.58 L231.50 372.65 L233.00 373.72 L234.50 374.77 L236.00 375.82 L237.50 376.87 L239.00 377.91 L240.50 378.95 L242.00 379.99 L243.50 381.03 L245.00 382.06 L246.50 383.07 L248.00 384.08 L249.50 385.07 L251.00 386.05 L252.50 387.00 L254.00 387.93 L255.50 388.84 L257.00 389.71 L258.50 390.56 L260.00 391.37 L261.50 392.14 L263.00 392.87 L264.50 393.57 L266.00 394.21 L267.50 394.81 L269.00 395.36 L270.50 395.86 L272.00 396.30 L272.50 396.43" fill="none" stroke="#cc5252" stroke-width="0.85" clip-path="url(#cB)" stroke-linejoin="round"/>
<path d="M47.00 302.56 L48.50 302.45 L50.00 302.33 L51.50 302.21 L53.00 302.09 L54.50 301.96 L56.00 301.83 L57.50 301.69 L59.00 301.54 L60.50 301.39 L62.00 301.23 L63.50 301.06 L65.00 300.88 L66.50 300.69 L68.00 300.49 L69.50 300.28 L71.00 300.05 L72.50 299.81 L74.00 299.56 L75.50 299.29 L77.00 299.00 L78.50 298.70 L80.00 298.38 L81.50 298.04 L83.00 297.68 L84.50 297.31 L86.00 296.91 L87.50 296.49 L89.00 296.05 L90.50 295.59 L92.00 295.10 L93.50 294.59 L95.00 294.05 L96.50 293.48 L98.00 292.89 L99.50 292.28 L101.00 291.63 L102.50 290.95 L104.00 290.25 L105.50 289.51 L107.00 288.75 L108.50 287.95 L110.00 287.12 L111.50 286.26 L113.00 285.38 L114.50 284.49 L116.00 283.59 L117.50 282.68 L119.00 281.77 L120.50 280.87 L122.00 279.97 L123.50 279.09 L125.00 278.22 L126.50 277.38 L128.00 276.57 L129.50 275.79 L131.00 275.05 L132.50 274.35 L134.00 273.70 L135.50 273.11 L137.00 272.57 L138.50 272.09 L140.00 271.68 L141.50 271.35 L143.00 271.09 L144.50 270.91 L146.00 270.82 L147.50 270.83 L149.00 270.93 L150.50 271.13 L152.00 271.44 L153.50 271.86 L155.00 272.40 L156.50 273.06 L158.00 273.84 L159.50 274.75 L161.00 275.77 L162.50 276.90 L164.00 278.13 L165.50 279.46 L167.00 280.88 L168.50 282.38 L170.00 283.95 L171.50 285.60 L173.00 287.31 L174.50 289.07 L176.00 290.89 L177.50 292.75 L179.00 294.65 L180.50 296.58 L182.00 298.54 L183.50 300.53 L185.00 302.55 L186.50 304.60 L188.00 306.66 L189.50 308.76 L191.00 310.86 L192.50 312.98 L194.00 315.11 L195.50 317.24 L197.00 319.37 L198.50 321.49 L200.00 323.60 L201.50 325.69 L203.00 327.76 L204.50 329.80 L206.00 331.81 L207.50 333.78 L209.00 335.72 L210.50 337.61 L212.00 339.47 L213.50 341.29 L215.00 343.08 L216.50 344.84 L218.00 346.56 L219.50 348.26 L221.00 349.93 L222.50 351.57 L224.00 353.19 L225.50 354.78 L227.00 356.35 L228.50 357.89 L230.00 359.42 L231.50 360.93 L233.00 362.43 L234.50 363.90 L236.00 365.37 L237.50 366.82 L239.00 368.26 L240.50 369.69 L242.00 371.11 L243.50 372.52 L245.00 373.91 L246.50 375.27 L248.00 376.62 L249.50 377.93 L251.00 379.21 L252.50 380.45 L254.00 381.65 L255.50 382.81 L257.00 383.92 L258.50 384.98 L260.00 385.98 L261.50 386.92 L263.00 387.79 L264.50 388.60 L266.00 389.34 L267.50 390.00 L269.00 390.58 L270.50 391.08 L272.00 391.50 L272.50 391.61" fill="none" stroke="#4f8a63" stroke-width="0.85" stroke-dasharray="2.2 1.5" clip-path="url(#cB)" stroke-linejoin="round"/>
<path d="M360.50 74.59 L362.00 76.69 L363.50 78.73 L365.00 80.71 L366.50 82.64 L368.00 84.51 L369.50 86.34 L371.00 88.12 L372.50 89.86 L374.00 91.56 L375.50 93.22 L377.00 94.85 L378.50 96.44 L380.00 98.01 L381.50 99.55 L383.00 101.06 L384.50 102.55 L386.00 104.02 L387.50 105.47 L389.00 106.90 L390.50 108.32 L392.00 109.72 L393.50 111.11 L395.00 112.47 L396.50 113.82 L398.00 115.16 L399.50 116.47 L401.00 117.77 L402.50 119.05 L404.00 120.32 L405.50 121.56 L407.00 122.79 L408.50 124.01 L410.00 125.20 L411.50 126.38 L413.00 127.54 L414.50 128.69 L416.00 129.81 L417.50 130.92 L419.00 132.02 L420.50 133.09 L422.00 134.15 L423.50 135.19 L425.00 136.21 L426.50 137.22 L428.00 138.21 L429.50 139.18 L431.00 140.14 L432.50 141.07 L434.00 141.99 L435.50 142.89 L437.00 143.78 L438.50 144.65 L440.00 145.50 L441.50 146.33 L443.00 147.15 L444.50 147.94 L446.00 148.73 L447.50 149.49 L449.00 150.24 L450.50 150.97 L452.00 151.69 L453.50 152.40 L455.00 153.08 L456.50 153.76 L458.00 154.41 L459.50 155.06 L461.00 155.69 L462.50 156.30 L464.00 156.91 L465.50 157.50 L467.00 158.07 L468.50 158.63 L470.00 159.19 L471.50 159.72 L473.00 160.25 L474.50 160.77 L476.00 161.27 L477.50 161.76 L479.00 162.24 L480.50 162.71 L482.00 163.17 L483.50 163.62 L485.00 164.06 L486.50 164.49 L488.00 164.91 L489.50 165.32 L491.00 165.73 L492.50 166.12 L494.00 166.51 L495.50 166.88 L497.00 167.25 L498.50 167.62 L500.00 167.97 L501.50 168.32 L503.00 168.66 L504.50 168.99 L506.00 169.32 L507.50 169.64 L509.00 169.96 L510.50 170.27 L512.00 170.57 L513.50 170.87 L515.00 171.17 L516.50 171.46 L518.00 171.75 L519.50 172.03 L521.00 172.31 L522.50 172.58 L524.00 172.86 L525.50 173.13 L527.00 173.39 L528.50 173.66 L530.00 173.92 L531.50 174.18 L533.00 174.44 L534.50 174.69 L536.00 174.95 L537.50 175.20 L539.00 175.46 L540.50 175.71 L542.00 175.96 L543.50 176.22 L545.00 176.47 L546.50 176.72 L548.00 176.98 L549.50 177.24 L551.00 177.49 L552.50 177.75 L554.00 178.02 L555.50 178.28 L557.00 178.55 L558.50 178.82 L560.00 179.09 L561.50 179.36 L563.00 179.64 L564.50 179.92 L566.00 180.21 L567.50 180.50 L569.00 180.80 L570.50 181.10 L572.00 181.40 L573.50 181.71 L575.00 182.03 L576.50 182.35 L578.00 182.67 L579.50 183.01 L581.00 183.35 L582.50 183.70 L584.00 184.05 L585.50 184.41 L585.80 184.49" fill="none" stroke="#1a1a1a" stroke-width="1.0" clip-path="url(#cC)" stroke-linejoin="round"/>
<path d="M360.50 74.00 L362.00 74.41 L363.50 74.82 L365.00 75.23 L366.50 75.64 L368.00 76.05 L369.50 76.46 L371.00 76.87 L372.50 77.28 L374.00 77.69 L375.50 78.10 L377.00 78.50 L378.50 78.91 L380.00 79.32 L381.50 79.72 L383.00 80.13 L384.50 80.53 L386.00 80.93 L387.50 81.33 L389.00 81.74 L390.50 82.14 L392.00 82.54 L393.50 82.94 L395.00 83.34 L396.50 83.74 L398.00 84.13 L399.50 84.53 L401.00 84.93 L402.50 85.32 L404.00 85.72 L405.50 86.11 L407.00 86.51 L408.50 86.90 L410.00 87.29 L411.50 87.68 L413.00 88.07 L414.50 88.46 L416.00 88.85 L417.50 89.24 L419.00 89.62 L420.50 90.01 L422.00 90.40 L423.50 90.78 L425.00 91.16 L426.50 91.55 L428.00 91.93 L429.50 92.31 L431.00 92.69 L432.50 93.07 L434.00 93.45 L435.50 93.83 L437.00 94.20 L438.50 94.58 L440.00 94.95 L441.50 95.33 L443.00 95.70 L444.50 96.07 L446.00 96.44 L447.50 96.81 L449.00 97.18 L450.50 97.55 L452.00 97.92 L453.50 98.28 L455.00 98.65 L456.50 99.01 L458.00 99.37 L459.50 99.74 L461.00 100.10 L462.50 100.46 L464.00 100.81 L465.50 101.17 L467.00 101.53 L468.50 101.88 L470.00 102.24 L471.50 102.59 L473.00 102.94 L474.50 103.30 L476.00 103.65 L477.50 103.99 L479.00 104.34 L480.50 104.69 L482.00 105.03 L483.50 105.38 L485.00 105.72 L486.50 106.06 L488.00 106.40 L489.50 106.74 L491.00 107.08 L492.50 107.42 L494.00 107.75 L495.50 108.09 L497.00 108.42 L498.50 108.75 L500.00 109.08 L501.50 109.41 L503.00 109.74 L504.50 110.07 L506.00 110.39 L507.50 110.72 L509.00 111.04 L510.50 111.36 L512.00 111.68 L513.50 112.00 L515.00 112.32 L516.50 112.64 L518.00 112.95 L519.50 113.27 L521.00 113.58 L522.50 113.89 L524.00 114.20 L525.50 114.51 L527.00 114.81 L528.50 115.12 L530.00 115.42 L531.50 115.73 L533.00 116.03 L534.50 116.33 L536.00 116.62 L537.50 116.92 L539.00 117.22 L540.50 117.51 L542.00 117.80 L543.50 118.09 L545.00 118.38 L546.50 118.67 L548.00 118.96 L549.50 119.24 L551.00 119.52 L552.50 119.81 L554.00 120.09 L555.50 120.36 L557.00 120.64 L558.50 120.92 L560.00 121.19 L561.50 121.46 L563.00 121.73 L564.50 122.00 L566.00 122.27 L567.50 122.54 L569.00 122.80 L570.50 123.06 L572.00 123.32 L573.50 123.58 L575.00 123.84 L576.50 124.10 L578.00 124.35 L579.50 124.60 L581.00 124.85 L582.50 125.10 L584.00 125.35 L585.50 125.60 L585.80 125.64" fill="none" stroke="#999" stroke-width="0.75" stroke-dasharray="1 1.2" clip-path="url(#cC)" stroke-linejoin="round"/>
<path d="M360.50 72.92 L362.00 71.62 L363.50 70.50 L365.00 69.54 L366.50 68.72 L368.00 68.03 L369.50 67.46 L371.00 66.99 L372.50 66.60 L374.00 66.30 L375.50 66.05 L377.00 65.85 L378.50 65.67 L380.00 65.52 L381.50 65.39 L383.00 65.28 L384.50 65.19 L386.00 65.12 L387.50 65.06 L389.00 65.02 L390.50 65.00 L392.00 64.99 L393.50 65.00 L395.00 65.02 L396.50 65.05 L398.00 65.09 L399.50 65.15 L401.00 65.22 L402.50 65.29 L404.00 65.38 L405.50 65.47 L407.00 65.58 L408.50 65.69 L410.00 65.80 L411.50 65.93 L413.00 66.06 L414.50 66.19 L416.00 66.32 L417.50 66.46 L419.00 66.60 L420.50 66.75 L422.00 66.89 L423.50 67.04 L425.00 67.18 L426.50 67.33 L428.00 67.48 L429.50 67.63 L431.00 67.78 L432.50 67.93 L434.00 68.08 L435.50 68.24 L437.00 68.39 L438.50 68.55 L440.00 68.70 L441.50 68.86 L443.00 69.02 L444.50 69.18 L446.00 69.34 L447.50 69.50 L449.00 69.66 L450.50 69.82 L452.00 69.98 L453.50 70.15 L455.00 70.31 L456.50 70.48 L458.00 70.65 L459.50 70.81 L461.00 70.98 L462.50 71.15 L464.00 71.32 L465.50 71.49 L467.00 71.66 L468.50 71.83 L470.00 72.00 L471.50 72.18 L473.00 72.35 L474.50 72.53 L476.00 72.70 L477.50 72.88 L479.00 73.05 L480.50 73.23 L482.00 73.41 L483.50 73.59 L485.00 73.76 L486.50 73.94 L488.00 74.12 L489.50 74.30 L491.00 74.48 L492.50 74.67 L494.00 74.85 L495.50 75.03 L497.00 75.21 L498.50 75.39 L500.00 75.58 L501.50 75.76 L503.00 75.95 L504.50 76.13 L506.00 76.32 L507.50 76.50 L509.00 76.69 L510.50 76.87 L512.00 77.06 L513.50 77.25 L515.00 77.43 L516.50 77.62 L518.00 77.81 L519.50 78.00 L521.00 78.19 L522.50 78.38 L524.00 78.56 L525.50 78.75 L527.00 78.94 L528.50 79.13 L530.00 79.32 L531.50 79.51 L533.00 79.70 L534.50 79.89 L536.00 80.08 L537.50 80.27 L539.00 80.46 L540.50 80.65 L542.00 80.84 L543.50 81.03 L545.00 81.22 L546.50 81.42 L548.00 81.61 L549.50 81.80 L551.00 81.99 L552.50 82.18 L554.00 82.37 L555.50 82.56 L557.00 82.75 L558.50 82.94 L560.00 83.13 L561.50 83.32 L563.00 83.51 L564.50 83.70 L566.00 83.89 L567.50 84.08 L569.00 84.27 L570.50 84.46 L572.00 84.65 L573.50 84.84 L575.00 85.03 L576.50 85.22 L578.00 85.41 L579.50 85.60 L581.00 85.79 L582.50 85.97 L584.00 86.16 L585.50 86.35 L585.80 86.39" fill="none" stroke="#cc5252" stroke-width="0.85" clip-path="url(#cC)" stroke-linejoin="round"/>
<path d="M360.59 74.05 L360.33 72.98 L360.13 71.90 L359.97 70.83 L359.87 69.76 L359.83 68.69 L359.83 67.64 L359.89 66.59 L360.00 65.56 L360.16 64.54 L360.37 63.54 L360.63 62.55 L360.94 61.59 L361.31 60.65 L361.72 59.73 L362.19 58.83 L362.70 57.97 L363.26 57.13 L363.87 56.31 L364.52 55.53 L365.20 54.77 L365.92 54.04 L366.67 53.34 L367.44 52.66 L368.24 52.01 L369.05 51.38 L369.89 50.78 L370.73 50.20 L371.59 49.65 L372.46 49.13 L373.34 48.63 L374.22 48.15 L375.12 47.70 L376.02 47.26 L376.94 46.85 L377.86 46.46 L378.79 46.09 L379.73 45.74 L380.68 45.41 L381.63 45.09 L382.59 44.80 L383.56 44.52 L384.53 44.25 L385.51 44.01 L386.50 43.77 L387.49 43.56 L388.48 43.35 L389.48 43.16 L390.49 42.98 L391.50 42.81 L392.51 42.66 L393.53 42.51 L394.55 42.38 L395.57 42.25 L396.59 42.13 L397.62 42.02 L398.65 41.92 L399.68 41.82 L400.72 41.73 L401.75 41.65 L402.78 41.57 L403.82 41.49 L404.85 41.42 L405.89 41.35 L406.92 41.29 L407.96 41.22 L408.99 41.16 L410.03 41.10 L411.06 41.04 L412.09 40.99 L413.13 40.94 L414.16 40.89 L415.19 40.84 L416.22 40.79 L417.25 40.75 L418.28 40.71 L419.32 40.67 L420.35 40.63 L421.38 40.60 L422.41 40.57 L423.44 40.54 L424.47 40.51 L425.50 40.48 L426.53 40.46 L427.55 40.44 L428.58 40.42 L429.61 40.40 L430.64 40.39 L431.67 40.37 L432.69 40.36 L433.72 40.35 L434.75 40.34 L435.77 40.34 L436.80 40.33 L437.83 40.33 L438.85 40.33 L439.88 40.34 L440.91 40.34 L441.93 40.34 L442.96 40.35 L443.98 40.36 L445.01 40.37 L446.03 40.39 L447.05 40.40 L448.08 40.42 L449.10 40.43 L450.13 40.45 L451.15 40.47 L452.17 40.50 L453.20 40.52 L454.22 40.55 L455.24 40.58 L456.26 40.60 L457.29 40.64 L458.31 40.67 L459.33 40.70 L460.35 40.74 L461.38 40.77 L462.40 40.81 L463.42 40.85 L464.44 40.89 L465.46 40.94 L466.48 40.98 L467.50 41.02 L468.52 41.07 L469.54 41.12 L470.56 41.17 L471.58 41.22 L472.61 41.27 L473.63 41.32 L474.65 41.38 L475.67 41.43 L476.69 41.49 L477.70 41.55 L478.72 41.61 L479.74 41.67 L480.76 41.73 L481.78 41.79 L482.80 41.85 L483.82 41.92 L484.84 41.98 L485.86 42.05 L486.88 42.12 L487.90 42.19 L488.91 42.26 L489.93 42.33 L490.95 42.40 L491.97 42.47 L492.99 42.54 L494.01 42.62 L495.03 42.69 L496.04 42.77 L497.06 42.85 L498.08 42.92 L499.10 43.00 L500.12 43.08 L501.14 43.16 L502.15 43.24 L503.17 43.32 L504.19 43.40 L505.21 43.49 L506.23 43.57 L507.24 43.65 L508.26 43.74 L509.28 43.82 L510.30 43.91 L511.31 44.00 L512.33 44.08 L513.35 44.17 L514.37 44.26 L515.39 44.35 L516.40 44.44 L517.42 44.52 L518.44 44.61 L519.46 44.70 L520.48 44.80 L521.50 44.89 L522.51 44.98 L523.53 45.07 L524.55 45.16 L525.57 45.25 L526.59 45.35 L527.60 45.44 L528.62 45.53 L529.64 45.63 L530.66 45.72 L531.68 45.81 L532.70 45.91 L533.72 46.00 L534.73 46.10 L535.75 46.19 L536.77 46.28 L537.79 46.38 L538.81 46.47 L539.83 46.57 L540.85 46.66 L541.87 46.76 L542.89 46.85 L543.91 46.95 L544.93 47.04 L545.95 47.14 L546.97 47.23 L547.99 47.33 L549.01 47.42 L550.03 47.52 L551.05 47.61 L552.07 47.70 L553.09 47.80 L554.11 47.89 L555.13 47.98 L556.15 48.08 L557.17 48.17 L558.20 48.26 L559.22 48.35 L560.24 48.45 L561.26 48.54 L562.28 48.63 L563.31 48.72 L564.33 48.81 L565.35 48.90 L566.37 48.99 L567.40 49.08 L568.42 49.17 L569.44 49.26 L570.47 49.34 L571.49 49.43 L572.51 49.52 L573.54 49.60 L574.56 49.69 L575.59 49.78 L576.61 49.86 L577.64 49.94 L578.66 50.03 L579.69 50.11 L580.71 50.19 L581.74 50.27 L582.76 50.35 L583.79 50.43 L584.82 50.51 L585.84 50.59" fill="none" stroke="#4f8a63" stroke-width="0.85" stroke-dasharray="2.2 1.5" clip-path="url(#cC)" stroke-linejoin="round"/>
<path d="M360.00 323.50H585.75" stroke="#444" stroke-width="1.0"/>
<path d="M360.00 314.50H585.75" stroke="#b0b0b0" stroke-width="1.0" stroke-dasharray="1 1"/>
<path d="M360.00 299.50H585.75" stroke="#d07070" stroke-width="1.0"/>
<path d="M360.00 281.50H585.75" stroke="#5a9a70" stroke-width="1.0" stroke-dasharray="2.6 1.5"/>
<path d="M585.79 326.77 L585.01 327.03 L584.22 327.30 L583.43 327.56 L582.63 327.82 L581.84 328.08 L581.04 328.33 L580.24 328.58 L579.44 328.82 L578.64 329.07 L577.83 329.31 L577.03 329.55 L576.22 329.79 L575.41 330.02 L574.60 330.26 L573.79 330.49 L572.98 330.72 L572.17 330.95 L571.35 331.18 L570.54 331.40 L569.72 331.63 L568.91 331.86 L568.09 332.08 L567.28 332.31 L566.46 332.54 L565.64 332.76 L564.83 332.99 L564.01 333.21 L563.19 333.44 L562.38 333.67 L561.56 333.90 L560.75 334.13 L559.93 334.36 L559.11 334.59 L558.30 334.83 L557.49 335.06 L556.67 335.30 L555.86 335.54 L555.05 335.78 L554.24 336.03 L553.43 336.28 L552.62 336.53 L551.82 336.78 L551.01 337.04 L550.21 337.30 L549.41 337.56 L548.61 337.83 L547.81 338.10 L547.01 338.37 L546.22 338.65 L545.43 338.93 L544.64 339.22 L543.85 339.51 L543.06 339.81 L542.28 340.11 L541.50 340.41 L540.72 340.73 L539.95 341.04 L539.17 341.37 L538.40 341.69 L537.64 342.03 L536.87 342.37 L536.11 342.71 L535.35 343.07 L534.60 343.43 L533.85 343.79 L533.10 344.17 L532.36 344.55 L531.62 344.94 L530.88 345.33 L530.15 345.73 L529.42 346.14 L528.69 346.56 L527.97 346.99 L527.26 347.42 L526.55 347.87 L525.84 348.32 L525.13 348.78 L524.44 349.25 L523.74 349.72 L523.05 350.21 L522.37 350.71 L521.69 351.22 L521.01 351.73 L520.34 352.26 L519.68 352.79 L519.02 353.34 L518.37 353.89 L517.73 354.46 L517.09 355.03 L516.46 355.62 L515.84 356.21 L515.23 356.82 L514.62 357.43 L514.03 358.05 L513.44 358.68 L512.87 359.32 L512.31 359.98 L511.75 360.63 L511.21 361.30 L510.68 361.98 L510.17 362.67 L509.67 363.37 L509.18 364.07 L508.70 364.79 L508.24 365.51 L507.79 366.24 L507.36 366.98 L506.94 367.73 L506.54 368.49 L506.16 369.26 L505.79 370.04 L505.44 370.82 L505.11 371.61 L504.79 372.42 L504.50 373.23 L504.22 374.05 L503.97 374.87 L503.73 375.71 L503.51 376.55 L503.32 377.41 L503.14 378.26 L502.99 379.12 L502.88 379.98 L502.79 380.84 L502.73 381.69 L502.71 382.53 L502.72 383.37 L502.78 384.18 L502.88 384.98 L503.02 385.76 L503.20 386.53 L503.41 387.27 L503.67 388.00 L503.97 388.72 L504.29 389.41 L504.66 390.09 L505.05 390.76 L505.48 391.41 L505.94 392.04 L506.42 392.66 L506.94 393.26 L507.48 393.85 L508.05 394.42 L508.64 394.98 L509.25 395.52 L509.88 396.05 L510.54 396.57 L511.21 397.07 L511.90 397.56 L512.61 398.04 L513.33 398.50 L514.06 398.96 L514.81 399.40 L515.57 399.83 L516.34 400.24 L517.12 400.65 L517.90 401.04 L518.70 401.42 L519.49 401.80 L520.29 402.16 L521.09 402.51 L521.90 402.85 L522.70 403.18 L523.51 403.51 L524.31 403.82 L525.12 404.12 L525.93 404.42 L526.74 404.70 L527.55 404.98 L528.37 405.25 L529.18 405.51 L529.99 405.76 L530.81 406.00 L531.62 406.24 L532.44 406.46 L533.26 406.69 L534.08 406.90 L534.90 407.10 L535.72 407.30 L536.54 407.50 L537.36 407.68 L538.19 407.86 L539.01 408.04 L539.84 408.20 L540.66 408.36 L541.49 408.52 L542.31 408.67 L543.14 408.82 L543.97 408.96 L544.80 409.09 L545.63 409.22 L546.46 409.35 L547.29 409.47 L548.12 409.59 L548.95 409.70 L549.79 409.81 L550.62 409.91 L551.45 410.02 L552.29 410.11 L553.12 410.21 L553.96 410.30 L554.79 410.39 L555.63 410.48 L556.46 410.57 L557.30 410.65 L558.13 410.73 L558.97 410.81 L559.81 410.89 L560.65 410.96 L561.48 411.04 L562.32 411.11 L563.16 411.18 L564.00 411.25 L564.84 411.32 L565.68 411.39 L566.51 411.46 L567.35 411.53 L568.19 411.60 L569.03 411.67 L569.87 411.75 L570.71 411.82 L571.55 411.89 L572.39 411.96 L573.23 412.04 L574.07 412.12 L574.90 412.19 L575.74 412.27 L576.58 412.35 L577.42 412.44 L578.26 412.52 L579.10 412.61 L579.94 412.70 L580.77 412.80 L581.61 412.89 L582.45 412.99 L583.29 413.10 L584.12 413.20 L584.96 413.32 L585.79 413.43" fill="none" stroke="#1a1a1a" stroke-width="1.0" clip-path="url(#cD)" stroke-linejoin="round"/>
<path d="M585.77 314.45 L584.50 314.57 L583.23 314.69 L581.96 314.81 L580.68 314.93 L579.41 315.05 L578.13 315.17 L576.84 315.29 L575.56 315.42 L574.28 315.54 L572.99 315.67 L571.70 315.80 L570.41 315.93 L569.12 316.06 L567.83 316.19 L566.53 316.33 L565.24 316.47 L563.94 316.61 L562.64 316.75 L561.35 316.89 L560.05 317.04 L558.75 317.20 L557.45 317.35 L556.15 317.51 L554.85 317.67 L553.55 317.84 L552.25 318.01 L550.95 318.18 L549.65 318.36 L548.35 318.54 L547.05 318.72 L545.75 318.91 L544.45 319.11 L543.15 319.31 L541.85 319.51 L540.55 319.72 L539.26 319.94 L537.96 320.16 L536.67 320.39 L535.38 320.62 L534.09 320.85 L532.80 321.10 L531.51 321.35 L530.22 321.60 L528.94 321.86 L527.65 322.13 L526.37 322.41 L525.09 322.69 L523.81 322.98 L522.54 323.27 L521.27 323.58 L520.00 323.89 L518.73 324.21 L517.46 324.53 L516.20 324.87 L514.94 325.21 L513.69 325.56 L512.43 325.92 L511.18 326.28 L509.93 326.66 L508.69 327.04 L507.45 327.43 L506.21 327.84 L504.98 328.25 L503.75 328.67 L502.52 329.10 L501.30 329.53 L500.08 329.98 L498.87 330.44 L497.66 330.91 L496.45 331.39 L495.25 331.88 L494.06 332.38 L492.86 332.89 L491.68 333.41 L490.49 333.94 L489.32 334.48 L488.14 335.03 L486.98 335.60 L485.81 336.18 L484.66 336.76 L483.51 337.36 L482.36 337.97 L481.22 338.60 L480.09 339.23 L478.96 339.88 L477.83 340.54 L476.72 341.22 L475.61 341.90 L474.50 342.60 L473.40 343.31 L472.31 344.04 L471.23 344.78 L470.15 345.53 L469.09 346.30 L468.04 347.09 L467.00 347.89 L465.97 348.71 L464.96 349.56 L463.97 350.42 L463.00 351.30 L462.04 352.21 L461.11 353.14 L460.20 354.09 L459.31 355.07 L458.45 356.07 L457.62 357.10 L456.81 358.16 L456.04 359.25 L455.29 360.37 L454.58 361.51 L453.90 362.69 L453.26 363.89 L452.66 365.11 L452.10 366.36 L451.59 367.62 L451.14 368.89 L450.73 370.17 L450.39 371.46 L450.10 372.75 L449.88 374.04 L449.72 375.33 L449.64 376.61 L449.63 377.88 L449.69 379.14 L449.83 380.38 L450.05 381.61 L450.34 382.81 L450.71 383.99 L451.14 385.15 L451.64 386.27 L452.21 387.37 L452.85 388.43 L453.55 389.46 L454.30 390.45 L455.11 391.42 L455.98 392.35 L456.89 393.26 L457.85 394.13 L458.84 394.97 L459.88 395.79 L460.95 396.58 L462.05 397.35 L463.17 398.09 L464.32 398.80 L465.49 399.50 L466.68 400.16 L467.88 400.81 L469.09 401.44 L470.30 402.04 L471.52 402.63 L472.73 403.20 L473.95 403.74 L475.17 404.27 L476.39 404.78 L477.61 405.27 L478.84 405.75 L480.06 406.20 L481.29 406.64 L482.53 407.06 L483.77 407.46 L485.01 407.84 L486.25 408.21 L487.50 408.56 L488.75 408.90 L490.00 409.22 L491.26 409.53 L492.51 409.82 L493.78 410.10 L495.04 410.37 L496.30 410.62 L497.57 410.86 L498.84 411.09 L500.12 411.31 L501.39 411.52 L502.67 411.71 L503.95 411.90 L505.23 412.07 L506.51 412.24 L507.80 412.40 L509.08 412.55 L510.37 412.70 L511.66 412.83 L512.95 412.96 L514.25 413.09 L515.54 413.21 L516.83 413.32 L518.13 413.43 L519.43 413.53 L520.73 413.63 L522.02 413.72 L523.32 413.82 L524.62 413.91 L525.93 414.00 L527.23 414.08 L528.53 414.17 L529.83 414.26 L531.14 414.34 L532.44 414.43 L533.74 414.51 L535.05 414.60 L536.35 414.69 L537.65 414.78 L538.96 414.87 L540.26 414.97 L541.56 415.07 L542.87 415.18 L544.17 415.29 L545.47 415.40 L546.77 415.52 L548.07 415.64 L549.37 415.78 L550.67 415.91 L551.97 416.06 L553.27 416.21 L554.56 416.36 L555.86 416.51 L557.16 416.66 L558.45 416.81 L559.75 416.96 L561.05 417.10 L562.34 417.24 L563.64 417.38 L564.93 417.50 L566.23 417.62 L567.53 417.73 L568.83 417.82 L570.13 417.90 L571.42 417.97 L572.73 418.02 L574.03 418.06 L575.33 418.08 L576.63 418.07 L577.94 418.05 L579.24 418.01 L580.55 417.94 L581.86 417.85 L583.17 417.73 L584.48 417.58 L585.80 417.41" fill="none" stroke="#999" stroke-width="0.75" stroke-dasharray="1 1.2" clip-path="url(#cD)" stroke-linejoin="round"/>
<path d="M585.81 299.58 L584.08 299.52 L582.36 299.46 L580.64 299.41 L578.92 299.37 L577.20 299.33 L575.48 299.30 L573.76 299.27 L572.04 299.25 L570.32 299.23 L568.61 299.22 L566.89 299.21 L565.17 299.21 L563.45 299.21 L561.74 299.22 L560.02 299.23 L558.31 299.25 L556.59 299.27 L554.87 299.29 L553.16 299.32 L551.44 299.36 L549.73 299.39 L548.01 299.43 L546.30 299.48 L544.59 299.53 L542.87 299.59 L541.16 299.64 L539.44 299.70 L537.73 299.77 L536.02 299.84 L534.30 299.91 L532.59 299.99 L530.88 300.07 L529.16 300.15 L527.45 300.24 L525.74 300.33 L524.02 300.42 L522.31 300.51 L520.60 300.61 L518.88 300.72 L517.17 300.82 L515.45 300.93 L513.74 301.04 L512.03 301.15 L510.31 301.26 L508.60 301.38 L506.88 301.50 L505.17 301.63 L503.45 301.75 L501.74 301.88 L500.02 302.01 L498.31 302.14 L496.59 302.28 L494.88 302.42 L493.16 302.57 L491.45 302.72 L489.74 302.89 L488.03 303.06 L486.32 303.25 L484.61 303.44 L482.91 303.65 L481.21 303.87 L479.51 304.11 L477.82 304.36 L476.12 304.63 L474.44 304.92 L472.75 305.23 L471.07 305.56 L469.40 305.91 L467.72 306.28 L466.06 306.68 L464.40 307.09 L462.74 307.54 L461.09 308.01 L459.45 308.51 L457.81 309.04 L456.18 309.60 L454.56 310.19 L452.94 310.81 L451.33 311.46 L449.73 312.14 L448.15 312.85 L446.57 313.60 L445.01 314.38 L443.47 315.18 L441.94 316.02 L440.43 316.88 L438.94 317.78 L437.46 318.71 L436.01 319.66 L434.59 320.65 L433.18 321.66 L431.81 322.70 L430.46 323.78 L429.13 324.88 L427.84 326.01 L426.58 327.16 L425.35 328.35 L424.15 329.56 L422.99 330.80 L421.86 332.07 L420.77 333.37 L419.72 334.69 L418.70 336.04 L417.73 337.42 L416.80 338.83 L415.92 340.26 L415.08 341.71 L414.28 343.20 L413.54 344.71 L412.84 346.24 L412.19 347.80 L411.59 349.39 L411.05 351.00 L410.56 352.64 L410.12 354.30 L409.75 355.99 L409.43 357.70 L409.16 359.43 L408.96 361.18 L408.82 362.95 L408.74 364.72 L408.72 366.50 L408.77 368.28 L408.88 370.05 L409.06 371.81 L409.30 373.56 L409.61 375.29 L409.98 376.99 L410.43 378.67 L410.95 380.31 L411.54 381.92 L412.20 383.48 L412.93 385.00 L413.73 386.47 L414.61 387.88 L415.57 389.24 L416.59 390.54 L417.67 391.79 L418.81 392.99 L420.02 394.14 L421.27 395.25 L422.58 396.31 L423.93 397.32 L425.32 398.29 L426.76 399.22 L428.22 400.11 L429.72 400.96 L431.25 401.77 L432.80 402.55 L434.38 403.29 L435.96 404.01 L437.57 404.69 L439.18 405.34 L440.80 405.97 L442.42 406.56 L444.05 407.13 L445.69 407.68 L447.33 408.20 L448.98 408.70 L450.64 409.17 L452.30 409.62 L453.96 410.05 L455.63 410.45 L457.30 410.84 L458.98 411.20 L460.66 411.54 L462.35 411.87 L464.03 412.18 L465.73 412.47 L467.42 412.74 L469.12 412.99 L470.83 413.24 L472.53 413.46 L474.24 413.67 L475.95 413.87 L477.67 414.06 L479.38 414.23 L481.10 414.39 L482.82 414.54 L484.54 414.68 L486.27 414.81 L487.99 414.93 L489.72 415.05 L491.44 415.15 L493.17 415.25 L494.90 415.34 L496.63 415.43 L498.36 415.52 L500.08 415.59 L501.81 415.67 L503.54 415.74 L505.27 415.81 L507.00 415.88 L508.72 415.95 L510.45 416.02 L512.17 416.09 L513.89 416.16 L515.61 416.23 L517.33 416.30 L519.05 416.38 L520.77 416.46 L522.48 416.55 L524.19 416.64 L525.90 416.73 L527.61 416.83 L529.31 416.93 L531.02 417.03 L532.72 417.14 L534.42 417.24 L536.12 417.35 L537.82 417.46 L539.52 417.56 L541.22 417.67 L542.92 417.78 L544.62 417.88 L546.32 417.99 L548.02 418.09 L549.72 418.19 L551.42 418.29 L553.12 418.39 L554.83 418.48 L556.53 418.57 L558.24 418.66 L559.94 418.74 L561.65 418.82 L563.36 418.89 L565.07 418.95 L566.78 419.01 L568.50 419.07 L570.22 419.12 L571.94 419.16 L573.66 419.19 L575.39 419.21 L577.11 419.23 L578.85 419.24 L580.58 419.24 L582.32 419.23 L584.06 419.21 L585.81 419.18" fill="none" stroke="#cc5252" stroke-width="0.85" clip-path="url(#cD)" stroke-linejoin="round"/>
<path d="M585.84 283.39 L583.84 283.30 L581.84 283.21 L579.85 283.12 L577.85 283.03 L575.86 282.94 L573.87 282.86 L571.88 282.77 L569.89 282.68 L567.91 282.60 L565.92 282.52 L563.94 282.44 L561.96 282.36 L559.98 282.28 L558.01 282.20 L556.03 282.12 L554.05 282.05 L552.08 281.97 L550.11 281.90 L548.13 281.83 L546.16 281.77 L544.19 281.70 L542.22 281.63 L540.25 281.57 L538.28 281.51 L536.32 281.45 L534.35 281.40 L532.38 281.34 L530.41 281.29 L528.44 281.24 L526.47 281.19 L524.51 281.14 L522.54 281.10 L520.57 281.06 L518.60 281.02 L516.63 280.99 L514.66 280.95 L512.69 280.92 L510.71 280.90 L508.74 280.87 L506.77 280.85 L504.79 280.83 L502.82 280.81 L500.84 280.80 L498.86 280.79 L496.88 280.78 L494.90 280.78 L492.92 280.78 L490.93 280.78 L488.95 280.79 L486.96 280.80 L484.97 280.81 L482.98 280.83 L480.98 280.85 L478.99 280.87 L476.99 280.90 L474.99 280.93 L472.98 280.97 L470.98 281.00 L468.97 281.05 L466.96 281.10 L464.95 281.17 L462.95 281.25 L460.94 281.34 L458.94 281.45 L456.94 281.58 L454.95 281.73 L452.96 281.91 L450.98 282.11 L449.00 282.34 L447.04 282.60 L445.08 282.90 L443.13 283.23 L441.20 283.60 L439.27 284.01 L437.36 284.46 L435.46 284.96 L433.57 285.50 L431.70 286.09 L429.85 286.74 L428.01 287.43 L426.19 288.19 L424.39 289.00 L422.62 289.86 L420.86 290.78 L419.14 291.76 L417.44 292.79 L415.78 293.88 L414.15 295.01 L412.57 296.20 L411.02 297.43 L409.52 298.72 L408.07 300.05 L406.67 301.43 L405.32 302.86 L404.03 304.33 L402.79 305.85 L401.62 307.41 L400.51 309.01 L399.46 310.65 L398.47 312.33 L397.54 314.05 L396.66 315.80 L395.84 317.58 L395.06 319.39 L394.34 321.23 L393.66 323.09 L393.03 324.97 L392.45 326.88 L391.91 328.80 L391.40 330.74 L390.94 332.70 L390.51 334.67 L390.12 336.65 L389.76 338.64 L389.44 340.63 L389.16 342.63 L388.92 344.63 L388.72 346.64 L388.56 348.65 L388.44 350.66 L388.37 352.66 L388.35 354.66 L388.38 356.66 L388.46 358.65 L388.59 360.63 L388.78 362.60 L389.02 364.56 L389.32 366.51 L389.68 368.44 L390.09 370.36 L390.57 372.26 L391.12 374.14 L391.73 376.00 L392.41 377.83 L393.15 379.65 L393.97 381.44 L394.85 383.20 L395.80 384.92 L396.82 386.61 L397.89 388.26 L399.04 389.87 L400.24 391.43 L401.51 392.94 L402.83 394.40 L404.21 395.80 L405.64 397.15 L407.12 398.44 L408.64 399.66 L410.21 400.82 L411.82 401.92 L413.46 402.95 L415.15 403.93 L416.86 404.84 L418.61 405.70 L420.39 406.51 L422.20 407.26 L424.04 407.97 L425.89 408.63 L427.77 409.25 L429.67 409.83 L431.59 410.37 L433.53 410.87 L435.47 411.34 L437.43 411.78 L439.40 412.19 L441.38 412.57 L443.36 412.94 L445.34 413.27 L447.33 413.59 L449.32 413.90 L451.30 414.19 L453.28 414.46 L455.27 414.72 L457.25 414.96 L459.23 415.19 L461.21 415.41 L463.19 415.61 L465.17 415.80 L467.15 415.98 L469.12 416.14 L471.10 416.30 L473.08 416.44 L475.05 416.57 L477.03 416.70 L479.00 416.81 L480.98 416.91 L482.95 417.01 L484.92 417.09 L486.90 417.17 L488.87 417.24 L490.84 417.31 L492.81 417.36 L494.78 417.41 L496.76 417.46 L498.73 417.49 L500.70 417.53 L502.67 417.55 L504.64 417.58 L506.61 417.60 L508.58 417.62 L510.55 417.63 L512.52 417.64 L514.49 417.65 L516.46 417.66 L518.44 417.66 L520.41 417.67 L522.38 417.67 L524.35 417.67 L526.32 417.68 L528.30 417.68 L530.27 417.69 L532.24 417.70 L534.22 417.71 L536.19 417.72 L538.17 417.74 L540.14 417.75 L542.12 417.78 L544.09 417.80 L546.07 417.83 L548.05 417.87 L550.03 417.91 L552.01 417.96 L553.99 418.01 L555.97 418.07 L557.95 418.13 L559.93 418.21 L561.92 418.29 L563.90 418.38 L565.89 418.48 L567.87 418.59 L569.86 418.70 L571.85 418.83 L573.84 418.97 L575.83 419.12 L577.82 419.28 L579.82 419.45 L581.81 419.63 L583.81 419.83 L585.80 420.04" fill="none" stroke="#4f8a63" stroke-width="0.85" stroke-dasharray="2.2 1.5" clip-path="url(#cD)" stroke-linejoin="round"/>
</svg></body></html>
